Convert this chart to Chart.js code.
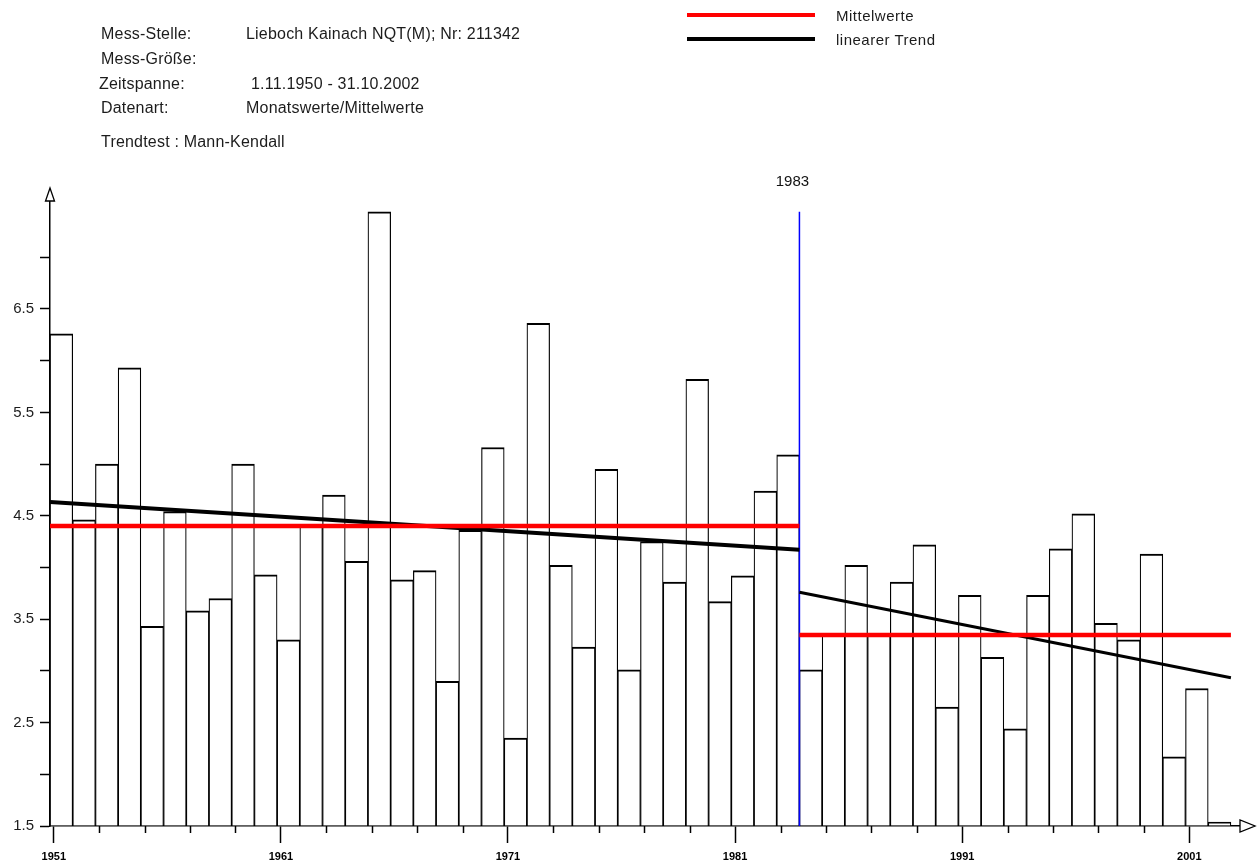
<!DOCTYPE html>
<html>
<head>
    <meta charset="utf-8">
    <title>Lieboch Kainach NQT(M)</title>
    <style>
        body { margin: 0; background: #fff; }
        #rahmen { position: relative; width: 1258px; height: 863px; overflow: hidden; }
        #rahmen canvas { position: absolute; left: 0; top: 0; }
        .t { position: absolute; font-family: "Liberation Sans", Arial, sans-serif; font-size: 16px; line-height: 18px; color: #1c1c1c; white-space: nowrap; letter-spacing: 0.2px; }
        .lg { font-size: 15px; letter-spacing: 0.5px; }
        .strich { position: absolute; left: 687px; width: 128px; height: 4px; }
    </style>
</head>
<body>
<div id="rahmen">
    <canvas id="grafik" width="1258" height="863"></canvas>

    <div class="t" style="left:101px; top:25px;">Mess-Stelle:</div>
    <div class="t" style="left:246px; top:25px;">Lieboch Kainach NQT(M); Nr: 211342</div>
    <div class="t" style="left:101px; top:50px;">Mess-Größe:</div>
    <div class="t" style="left:99px; top:75px;">Zeitspanne:</div>
    <div class="t" style="left:251px; top:75px;">1.11.1950 - 31.10.2002</div>
    <div class="t" style="left:101px; top:99px;">Datenart:</div>
    <div class="t" style="left:246px; top:99px;">Monatswerte/Mittelwerte</div>
    <div class="t" style="left:101px; top:133px;">Trendtest : Mann-Kendall</div>

    <div class="strich" style="top:13px; background:#ff0000;"></div>
    <div class="t lg" style="left:836px; top:7px;">Mittelwerte</div>
    <div class="strich" style="top:37px; background:#000;"></div>
    <div class="t lg" style="left:836px; top:31px;">linearer Trend</div>
</div>

<script src="https://cdn.jsdelivr.net/npm/chart.js@4.4.1/dist/chart.umd.min.js"></script>
<script>

// hydrologische Jahre (1.11. - 31.10.)
var jahre = [1951, 1952, 1953, 1954, 1955, 1956, 1957, 1958, 1959, 1960,
             1961, 1962, 1963, 1964, 1965, 1966, 1967, 1968, 1969, 1970,
             1971, 1972, 1973, 1974, 1975, 1976, 1977, 1978, 1979, 1980,
             1981, 1982, 1983, 1984, 1985, 1986, 1987, 1988, 1989, 1990,
             1991, 1992, 1993, 1994, 1995, 1996, 1997, 1998, 1999, 2000,
             2001, 2002];

// NQT(M) je Jahr
var werte = [6.26, 4.46, 5.00, 5.93, 3.43, 4.54, 3.58, 3.70, 5.00, 3.93,
             3.30, 4.40, 4.70, 4.06, 7.44, 3.88, 3.97, 2.90, 4.36, 5.16,
             2.35, 6.36, 4.02, 3.23, 4.95, 3.01, 4.25, 3.86, 5.82, 3.67,
             3.92, 4.74, 5.09, 3.01, 3.35, 4.02, 3.36, 3.86, 4.22, 2.65,
             3.73, 3.13, 2.44, 3.73, 4.18, 4.52, 3.46, 3.30, 4.13, 2.17,
             2.83, 1.50];

var bruchJahr = 1983;
var jahrMarken = [1951, 1961, 1971, 1981, 1991, 2001];
var yMarken = [1.5, 2.5, 3.5, 4.5, 5.5, 6.5];

var yMin = 1.5;
var yMax = 7.544;
var xMin = 1950 + 5 / 6;
var xMax = 2003.233;

// Balken von 1.11. bis 31.10.
function mitte(j) { return j + 1 / 3; }
function anfang(j) { return j - 1 / 6; }
function ende(j) { return j + 5 / 6; }

var teil1 = [], teil2 = [];
jahre.forEach(function (j, i) {
    if (j <= bruchJahr) teil1.push({ x: mitte(j), y: werte[i], j: j });
    else teil2.push({ x: mitte(j), y: werte[i], j: j });
});

function mittelwert(p) {
    var s = 0;
    p.forEach(function (d) { s += d.y; });
    return s / p.length;
}

// lineare Regression, Linie ueber den ganzen Abschnitt
function trend(p) {
    var mx = 0, my = mittelwert(p), sxy = 0, sxx = 0;
    p.forEach(function (d) { mx += d.x; });
    mx = mx / p.length;
    p.forEach(function (d) { sxy += (d.x - mx) * (d.y - my); sxx += (d.x - mx) * (d.x - mx); });
    var k = sxy / sxx;
    var x0 = anfang(p[0].j), x1 = ende(p[p.length - 1].j);
    return [{ x: x0, y: my + k * (x0 - mx) }, { x: x1, y: my + k * (x1 - mx) }];
}

function mittelLinie(p) {
    var m = mittelwert(p);
    return [{ x: anfang(p[0].j), y: m }, { x: ende(p[p.length - 1].j), y: m }];
}

var balken = jahre.map(function (j, i) { return { x: mitte(j), y: werte[i] }; });
var bruchX = ende(bruchJahr);
var spitze = Math.max.apply(null, werte);

var schrift = '"Liberation Sans", Arial, sans-serif';

var achsenPlugin = {
    id: 'achsen',
    afterDraw: function (chart) {
        var ctx = chart.ctx, a = chart.chartArea, xs = chart.scales.x;
        ctx.save();
        ctx.strokeStyle = '#000';
        ctx.lineWidth = 1.5;

        // kurze Striche alle zwei Jahre
        for (var j = 1953; j <= 1999; j += 2) {
            if ((j - 1951) % 10 === 0) continue;
            var px = Math.round(xs.getPixelForValue(j)) + 0.5;
            ctx.beginPath();
            ctx.moveTo(px, a.bottom);
            ctx.lineTo(px, a.bottom + 7);
            ctx.stroke();
        }

        // Pfeile an den Achsen
        ctx.fillStyle = '#fff';
        ctx.lineWidth = 1.3;
        ctx.beginPath();
        ctx.moveTo(a.left - 4.5, a.top);
        ctx.lineTo(a.left + 4.5, a.top);
        ctx.lineTo(a.left, a.top - 13);
        ctx.closePath();
        ctx.fill();
        ctx.stroke();

        ctx.beginPath();
        ctx.moveTo(a.right, a.bottom - 6);
        ctx.lineTo(a.right, a.bottom + 6);
        ctx.lineTo(a.right + 15, a.bottom);
        ctx.closePath();
        ctx.fill();
        ctx.stroke();

        // Bruchjahr
        ctx.fillStyle = '#111';
        ctx.font = '15px ' + schrift;
        ctx.textAlign = 'center';
        ctx.textBaseline = 'middle';
        ctx.fillText(String(bruchJahr), xs.getPixelForValue(bruchX) - 7, 182);
        ctx.restore();
    }
};

var ctx = document.getElementById('grafik');

var grafik = new Chart(ctx, {
    type: 'bar',
    data: {
        datasets: [
            {
                label: 'Mittelwerte',
                type: 'line',
                data: mittelLinie(teil1),
                borderColor: '#ff0000',
                borderWidth: 4.5,
                pointRadius: 0,
                borderCapStyle: 'butt',
                clip: false,
                order: 1
            },
            {
                label: 'Mittelwerte',
                type: 'line',
                data: mittelLinie(teil2),
                borderColor: '#ff0000',
                borderWidth: 4.5,
                pointRadius: 0,
                borderCapStyle: 'butt',
                clip: false,
                order: 1
            },
            {
                label: 'linearer Trend',
                type: 'line',
                data: trend(teil1),
                borderColor: '#000',
                borderWidth: 4,
                pointRadius: 0,
                order: 2
            },
            {
                label: 'linearer Trend',
                type: 'line',
                data: trend(teil2),
                borderColor: '#000',
                borderWidth: 3,
                pointRadius: 0,
                order: 2
            },
            {
                label: 'Bruch',
                type: 'line',
                data: [{ x: bruchX, y: yMin }, { x: bruchX, y: spitze }],
                borderColor: '#0000ff',
                borderWidth: 1.5,
                pointRadius: 0,
                order: 3
            },
            {
                label: 'NQT(M)',
                data: balken,
                backgroundColor: '#fff',
                borderColor: '#000',
                borderWidth: { top: 2, left: 1.2, right: 1.2, bottom: 0 },
                borderSkipped: 'bottom',
                barPercentage: 1,
                categoryPercentage: 1,
                base: yMin,
                minBarLength: 4,
                clip: false,
                order: 4
            }
        ]
    },
    options: {
        responsive: false,
        animation: false,
        events: [],
        layout: { padding: { top: 201, right: 18, left: 0, bottom: 0 } },
        plugins: {
            legend: { display: false },
            tooltip: { enabled: false }
        },
        scales: {
            x: {
                type: 'linear',
                min: xMin,
                max: xMax,
                offset: false,
                afterBuildTicks: function (s) {
                    var t = [];
                    for (var j = 1951; j <= 2001; j += 2) t.push({ value: j });
                    s.ticks = t;
                },
                afterFit: function (s) { s.height = 37; },
                grid: {
                    offset: false,
                    drawOnChartArea: false,
                    tickLength: 17,
                    tickWidth: 1.5,
                    tickColor: function (c) {
                        return c.tick && jahrMarken.indexOf(c.tick.value) >= 0 ? '#000' : 'rgba(0,0,0,0)';
                    }
                },
                border: { color: '#000', width: 1.5 },
                ticks: {
                    autoSkip: false,
                    maxRotation: 0,
                    padding: 7,
                    color: '#000',
                    font: { family: schrift, size: 11, weight: 'bold' },
                    callback: function (v) { return jahrMarken.indexOf(v) >= 0 ? String(v) : ''; }
                }
            },
            y: {
                min: yMin,
                max: yMax,
                afterBuildTicks: function (s) {
                    var t = [];
                    for (var v = 1.5; v <= 7.01; v += 0.5) t.push({ value: Math.round(v * 10) / 10 });
                    s.ticks = t;
                },
                afterFit: function (s) { s.width = 50; },
                grid: {
                    drawOnChartArea: false,
                    tickLength: 10,
                    tickWidth: 1.5,
                    tickColor: '#000'
                },
                border: { color: '#000', width: 1.5 },
                ticks: {
                    padding: 6,
                    color: '#1c1c1c',
                    font: { family: schrift, size: 15 },
                    callback: function (v) { return yMarken.indexOf(v) >= 0 ? v.toFixed(1) : ''; }
                }
            }
        }
    },
    plugins: [achsenPlugin]
});
</script>
</body>
</html>
